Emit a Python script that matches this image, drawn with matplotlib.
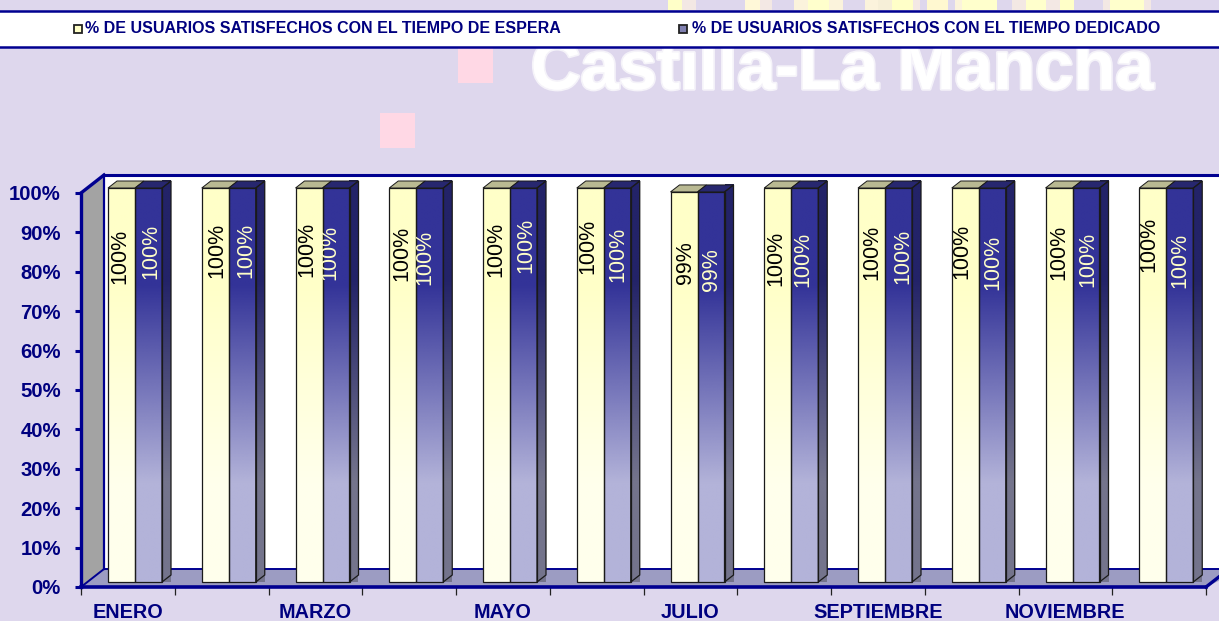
import numpy as np
import matplotlib
matplotlib.use("Agg")
import matplotlib.pyplot as plt
from matplotlib.patches import Polygon, Rectangle
from matplotlib.colors import to_rgb
import matplotlib.patheffects as pe

# ---- data ----
meses = ["ENERO", "FEBRERO", "MARZO", "ABRIL", "MAYO", "JUNIO", "JULIO", "AGOSTO",
         "SEPTIEMBRE", "OCTUBRE", "NOVIEMBRE", "DICIEMBRE"]
espera = [100, 100, 100, 100, 100, 100, 99, 100, 100, 100, 100, 100]
dedicado = [100, 100, 100, 100, 100, 100, 99, 100, 100, 100, 100, 100]
serie_espera = "% DE USUARIOS SATISFECHOS CON EL TIEMPO DE ESPERA"
serie_dedicado = "% DE USUARIOS SATISFECHOS CON EL TIEMPO DEDICADO"

# ---- label placement (pixel centres of the hand-placed data labels) ----
lab_esp_x = [120, 217, 307, 402, 496, 588, 685, 776, 872, 962, 1059, 1149]
lab_esp_y = [256, 250, 249, 253, 249, 246, 263, 258, 252, 251, 252, 244]
lab_ded_x = [151, 246, 330, 425, 526, 618, 711, 803, 903, 993, 1088, 1180]
lab_ded_y = [251, 250, 252, 257, 245, 254, 270, 259, 256, 262, 259, 260]

W, H = 1219, 621
NAVY = "#00007F"
BG = "#DED7ED"
plt.rcParams["font.family"] = ["Liberation Sans", "DejaVu Sans"]

fig = plt.figure(figsize=(W / 100, H / 100), dpi=100, facecolor=BG)

# ---- decorative backdrop, in pixel space ----
bg = fig.add_axes([0, 0, 1, 1], zorder=0)
bg.set_xlim(0, W); bg.set_ylim(H, 0); bg.axis("off")
for x0, x1, c in [(668, 682, "#FFFFC8"), (682, 696, "#F3E8E4"), (745, 760, "#FFF8D8"), (760, 772, "#F3E8E4"),
                  (794, 808, "#FBF3DC"), (808, 829, "#FFFFCC"), (829, 843, "#FBF3DC"), (865, 878, "#FBF3DC"),
                  (878, 892, "#F6EFD8"), (892, 913, "#FFFFC8"), (913, 920, "#F3E8E4"), (927, 948, "#FFF8D0"),
                  (955, 962, "#FBF3DC"), (962, 997, "#FFFFCC"), (1012, 1026, "#F3E8E4"), (1026, 1046, "#FFFFCC"),
                  (1046, 1060, "#F3E8E4"), (1060, 1074, "#FFFFC8"), (1103, 1110, "#F3E8E4"), (1110, 1144, "#FFFFCC"),
                  (1144, 1151, "#F3E8E4")]:
    bg.add_patch(Rectangle((x0, 0), x1 - x0, 10, fc=c, ec="none"))
for x0, y0, s in [(458, 48, 35), (380, 113, 35)]:
    bg.add_patch(Rectangle((x0, y0), s, s, fc="#FFD8E5", ec="none"))
wm = bg.text(842, 71, "Castilla-La Mancha", color="white", fontsize=49.5, fontweight="bold",
             ha="center", va="center", zorder=1)
wm.set_path_effects([pe.withStroke(linewidth=2.5, foreground="white", alpha=0.7)])

# legend band
bg.add_patch(Rectangle((-5, 10.5), W + 10, 36.5, fc="white", ec="#000090", lw=1.8, zorder=3))
bg.add_patch(Rectangle((73.5, 24.5), 8, 8.5, fc="#FFFFC8", ec="#222222", lw=1.3, zorder=4))
bg.add_patch(Rectangle((679, 24.5), 8, 8.5, fc="#8080B0", ec="#222222", lw=1.3, zorder=4))
bg.text(85, 28.5, serie_espera, color=NAVY, fontsize=11.5, fontweight="bold", va="center", ha="left", zorder=4)
bg.text(692, 28.5, serie_dedicado, color=NAVY, fontsize=11.5, fontweight="bold", va="center", ha="left", zorder=4)

# ---- chart axes: x in months, y in percent ----
L, R, B, T = 81, 1206, 587, 193
ax = fig.add_axes([L / W, 1 - B / H, (R - L) / W, (B - T) / H], zorder=2)
ax.patch.set_alpha(0)
XU = (R - L) / 12          # pixels per month
YU = (B - T) / 100         # pixels per percent
DX, DY = 23 / XU, 18 / YU  # chart depth
BW = 27 / XU               # bar width
BX0 = 27 / XU              # first bar offset inside a month
SX, SY = 9 / XU, 7 / YU    # bar depth
BASE = 5 / YU              # bar base above the front axis


def poly(pts, **kw):
    p = Polygon(pts, closed=True, clip_on=False, **kw)
    ax.add_patch(p)
    return p


def gradient(x0, x1, y0, y1, ctop, cbot, clip=None):
    arr = np.array([[to_rgb(ctop)], [to_rgb(cbot)]])
    im = ax.imshow(arr, extent=(x0, x1, y0, y1), aspect="auto", origin="upper",
                   interpolation="bilinear", zorder=4, clip_on=False)
    if clip is not None:
        im.set_clip_path(clip)
        clip.set_transform(ax.transData)
    return im


# walls and floor
poly([(0, 0), (DX, DY), (DX, 100 + DY), (0, 100)], fc="#A3A3A3", ec="none", zorder=1)
poly([(DX, DY), (12.4, DY), (12.4, 100 + DY), (DX, 100 + DY)], fc="white", ec="none", zorder=0.5)
poly([(0, 0), (DX, DY), (12.4, DY), (12, 0)], fc="#9C9CC2", ec="none", zorder=1)
ax.plot([DX, 12.4], [DY, DY], color="#000090", lw=1.4, zorder=2, clip_on=False)
ax.plot([DX, DX], [DY, 100 + DY], color="#000090", lw=1.6, zorder=2, clip_on=False)
ax.plot([DX, 12.4], [100 + DY, 100 + DY], color="#000090", lw=2.2, zorder=2, clip_on=False)
ax.plot([0, DX], [100, 100 + DY], color="#000090", lw=2.4, zorder=2, clip_on=False)
ax.plot([0, DX], [0, DY], color="#000090", lw=1.4, zorder=2, clip_on=False)
ax.plot([12, 12.4], [0, DY * 0.4 / DX], color="#000090", lw=2.4, zorder=2, clip_on=False)

EDGE = "#1A1A1A"
for i in range(len(meses)):
    x0 = i + BX0
    x1 = x0 + BW
    x2 = x1 + BW
    v1, v2 = espera[i], dedicado[i]
    # yellow bar
    gradient(x0, x1, BASE, v1 + BASE, "#FFFFC8", "#FFFFEC")
    ax.add_patch(Rectangle((x0, BASE), BW, v1, fc="none", ec=EDGE, lw=0.9, zorder=5, clip_on=False))
    poly([(x0, v1 + BASE), (x0 + SX, v1 + BASE + SY), (x1 + SX, v1 + BASE + SY), (x1, v1 + BASE)],
         fc="#B9B992", ec=EDGE, lw=0.7, zorder=5)
    # blue bar
    gradient(x1, x2, BASE, v2 + BASE, "#333398", "#B3B3D9")
    ax.add_patch(Rectangle((x1, BASE), BW, v2, fc="none", ec=EDGE, lw=0.9, zorder=5, clip_on=False))
    poly([(x1, v2 + BASE), (x1 + SX, v2 + BASE + SY), (x2 + SX, v2 + BASE + SY), (x2, v2 + BASE)],
         fc="#27276F", ec=EDGE, lw=0.7, zorder=5)
    # blue bar side face
    side = [(x2, BASE), (x2 + SX, BASE + SY), (x2 + SX, v2 + BASE + SY), (x2, v2 + BASE)]
    clip = Polygon(side, closed=True)
    gradient(x2, x2 + SX, BASE, v2 + BASE + SY, "#232368", "#74748C", clip=clip)
    poly(side, fc="none", ec=EDGE, lw=0.9, zorder=5)
    # data labels
    ax.text((lab_esp_x[i] - L) / XU, (B - lab_esp_y[i]) / YU, f"{v1}%", rotation=90, color="black",
            fontsize=15.5, ha="center", va="center", zorder=6, clip_on=False)
    ax.text((lab_ded_x[i] - L) / XU, (B - lab_ded_y[i]) / YU, f"{v2}%", rotation=90, color="#FFFFC8",
            fontsize=15.5, ha="center", va="center", zorder=6, clip_on=False)

ax.set_xlim(0, 12)
ax.set_ylim(0, 100)
for s in ("top", "right"):
    ax.spines[s].set_visible(False)
ax.spines["left"].set(color="#000090", lw=2.4, zorder=7)
ax.spines["bottom"].set(color="#000090", lw=2.6, zorder=7)
ax.set_axisbelow(False)

ax.set_yticks(np.arange(0, 101, 10))
ax.set_yticklabels([f"{v}%" for v in range(0, 101, 10)], color=NAVY, fontsize=14.6, fontweight="bold")
ax.tick_params(axis="y", length=4.5, width=2.2, color="#000090", pad=10)

ax.set_xticks(np.arange(0, 13))
ax.set_xticklabels([])
ax.tick_params(axis="x", which="major", length=6, width=0.9, color="#222222")
ax.set_xticks(np.arange(0.5, 12, 2), minor=True)
ax.set_xticklabels(meses[::2], minor=True, color=NAVY, fontsize=14.3, fontweight="bold")
ax.tick_params(axis="x", which="minor", length=0, pad=11.5)

fig.savefig("out.png", dpi=100, facecolor=BG)
